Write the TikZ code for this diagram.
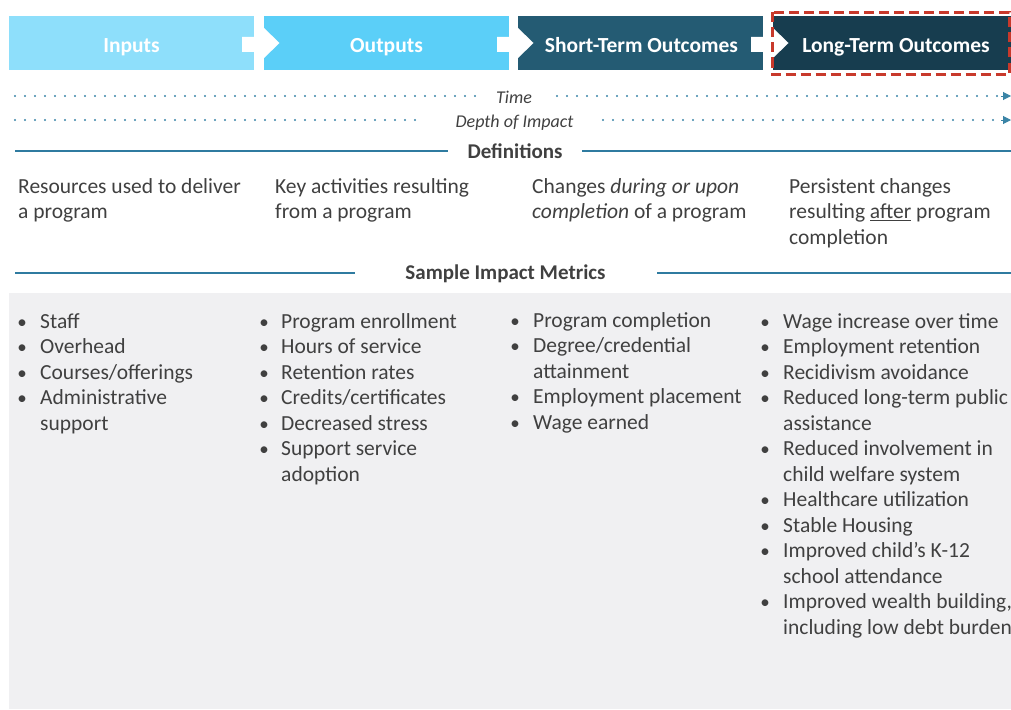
\documentclass[tikz,border=0pt]{standalone}
\usepackage{fontspec}
\setmainfont{Carlito}
\usetikzlibrary{arrows.meta}
\definecolor{boxA}{HTML}{8EDFFB}
\definecolor{boxB}{HTML}{5BCFF8}
\definecolor{boxC}{HTML}{245B73}
\definecolor{boxD}{HTML}{173D4F}
\definecolor{hilite}{HTML}{C8392B}
\definecolor{ruleblue}{HTML}{2F7BA0}
\definecolor{dotblue}{HTML}{3A84A6}
\definecolor{txt}{HTML}{404040}
\definecolor{panel}{HTML}{F0F0F2}
\tikzset{
  stagebox/.style={fill=#1,draw=none},
  stagelabel/.style={anchor=base,inner sep=0,text=white,font=\fontsize{21.5}{26}\selectfont\bfseries},
  chevron/.style={fill=white,draw=none},
  dotline/.style={dotblue,line width=2.2pt,line cap=round,dash pattern=on 0pt off 10pt},
  dotarrow/.style={dotblue,line width=1pt,-{Triangle[length=8pt,width=8pt]}},
  axislabel/.style={anchor=base,inner sep=0,text=txt,font=\fontsize{18}{22}\selectfont\itshape},
  rule/.style={ruleblue,line width=2pt},
  sechead/.style={anchor=base,inner sep=0,text=txt,font=\fontsize{21}{25.6}\selectfont\bfseries},
  body/.style={anchor=base west,inner sep=0,text=txt,font=\fontsize{21.5}{25.6}\selectfont},
  dot/.style={anchor=base,inner sep=0,text=txt,font=\fontsize{19}{25.6}\selectfont},
}
% one bulleted line: name, bullet x, text x, baseline y, text
\newcommand\bulletline[5]{%
  \node[dot] (#1b) at (#2,#4) {•};
  \node[body] (#1) at (#3,#4) {#5};}
% continuation line of a bullet item
\newcommand\contline[4]{\node[body] (#1) at (#2,#3) {#4};}
\begin{document}
\begin{tikzpicture}[x=1pt,y=-1pt]
\useasboundingbox (0,0) rectangle (1011,709);
\clip (0,0) rectangle (1011,709);

% ---- stage boxes ----
\fill[stagebox=boxA] (9,16) rectangle (254,70);
\fill[stagebox=boxB] (264,16) rectangle (509,70);
\fill[stagebox=boxC] (518,16) rectangle (763,70);
\fill[stagebox=boxD] (773,16) rectangle (1025,70);

% white chevrons linking the stages
\foreach \s/\b in {242/264, 497/518, 751/773}{
  \fill[chevron] (\s,37) -- (\b,37) -- (\b,28) -- (\b+15.5,43) -- (\b,58) -- (\b,52) -- (\s,52) -- cycle;
}

\node[stagelabel] (inputs)  at (131.5,52.5) {Inputs};
\node[stagelabel] (outputs) at (386.5,52.5) {Outputs};
\node[stagelabel] (shortterm) at (641.5,52.5) {Short-Term Outcomes};
\node[stagelabel] (longterm)  at (896,52.5) {Long-Term Outcomes};

% highlight frame on the last stage
\draw[hilite,line width=3pt,dash pattern=on 10pt off 5pt] (772,12.5) rectangle (1009,74);

% ---- time / depth axes ----
\node[axislabel] (time)  at (514,103) {Time};
\node[axislabel] (depth) at (514.5,127) {Depth of Impact};
\coordinate (timeL0) at (15,96);   \coordinate (timeL1) at (476,96);
\coordinate (timeR0) at (557,96);  \coordinate (timeR1) at (1011,96);
\coordinate (depL0)  at (15,120);  \coordinate (depL1)  at (421,120);
\coordinate (depR0)  at (603,120); \coordinate (depR1)  at (1011,120);
\draw[dotline] (timeL0) -- (timeL1);
\draw[dotline] (timeR0) -- (1001,96);
\draw[dotarrow] (1001,96) -- (timeR1);
\draw[dotline] (depL0) -- (depL1);
\draw[dotline] (depR0) -- (1001,120);
\draw[dotarrow] (1001,120) -- (depR1);

% ---- definitions ----
\node[sechead] (defs) at (515,158) {Definitions};
\coordinate (defL0) at (15,151);  \coordinate (defL1) at (448,151);
\coordinate (defR0) at (582,151); \coordinate (defR1) at (1011,151);
\draw[rule] (defL0) -- (defL1);
\draw[rule] (defR0) -- (defR1);

\node[body] (d1a) at (18,193)   {Resources used to deliver};
\node[body] (d1b) at (18,218.6) {a program};
\node[body] (d2a) at (275,193)   {Key activities resulting};
\node[body] (d2b) at (275,218.6) {from a program};
\node[body] (d3a) at (532,193)   {Changes \textit{during or upon}};
\node[body] (d3b) at (532,218.6) {\textit{completion} of a program};
\node[body] (d4a) at (789,193)   {Persistent changes};
\node[body] (d4b) at (789,218.6) {resulting \underline{after} program};
\node[body] (d4c) at (789,244.2) {completion};

% ---- sample impact metrics ----
\node[sechead] (metrics) at (505.5,279) {Sample Impact Metrics};
\coordinate (metL0) at (15,273);  \coordinate (metL1) at (355,273);
\coordinate (metR0) at (657,273); \coordinate (metR1) at (1011,273);
\draw[rule] (metL0) -- (metL1);
\draw[rule] (metR0) -- (metR1);

\fill[panel] (9,293) rectangle (1011,709);

% inputs column
\bulletline{ia}{22}{40}{328}{Staff}
\bulletline{ib}{22}{40}{353.5}{Overhead}
\bulletline{ic}{22}{40}{379}{Courses/offerings}
\bulletline{id}{22}{40}{404.5}{Administrative}
\contline{ie}{40}{430}{support}

% outputs column
\bulletline{oa}{264}{281}{328}{Program enrollment}
\bulletline{ob}{264}{281}{353.5}{Hours of service}
\bulletline{oc}{264}{281}{379}{Retention rates}
\bulletline{od}{264}{281}{404.5}{Credits/certificates}
\bulletline{oe}{264}{281}{430}{Decreased stress}
\bulletline{of}{264}{281}{455.5}{Support service}
\contline{og}{281}{481}{adoption}

% short-term outcomes column
\bulletline{sa}{515}{533}{327}{Program completion}
\bulletline{sb}{515}{533}{352.5}{Degree/credential}
\contline{sc}{533}{378}{attainment}
\bulletline{sd}{515}{533}{403.5}{Employment placement}
\bulletline{se}{515}{533}{429}{Wage earned}

% long-term outcomes column
\bulletline{la}{765}{783}{328}{Wage increase over time}
\bulletline{lb}{765}{783}{353.5}{Employment retention}
\bulletline{lc}{765}{783}{379}{Recidivism avoidance}
\bulletline{ld}{765}{783}{404.5}{Reduced long-term public}
\contline{le}{783}{430}{assistance}
\bulletline{lf}{765}{783}{455.5}{Reduced involvement in}
\contline{lg}{783}{481}{child welfare system}
\bulletline{lh}{765}{783}{506.5}{Healthcare utilization}
\bulletline{li}{765}{783}{532}{Stable Housing}
\bulletline{lj}{765}{783}{557.5}{Improved child’s K-12}
\contline{lk}{783}{583}{school attendance}
\bulletline{ll}{765}{783}{608.5}{Improved wealth building,}
\contline{lm}{783}{634}{including low debt burden}
\end{tikzpicture}
\end{document}
